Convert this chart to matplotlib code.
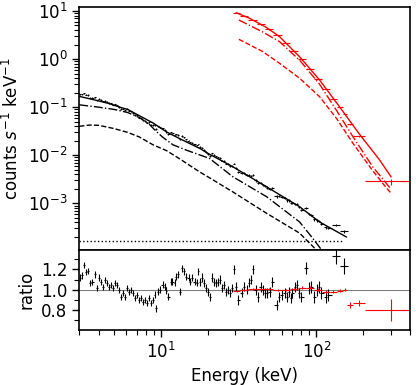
import numpy as np
import matplotlib
matplotlib.use("Agg")
import matplotlib.pyplot as plt
from matplotlib.ticker import MultipleLocator

# ---- model curves ----
# black spectrum: total, two components, constant background
blk_model_e = [3.0, 4.0, 4.7, 5.46, 6.13, 7.33, 8.93, 10.9, 13.2, 17.8, 20.6, 29.0, 48.0, 78.1, 105, 156]
blk_total = [0.168, 0.135, 0.118, 0.100, 0.090, 0.066, 0.047, 0.0306, 0.0223, 0.0139, 0.0105,
             0.0058, 0.0022, 8.5e-4, 4.1e-4, 2.0e-4]

blk_dd_e = [3.0, 4.0, 5.0, 6.1, 7.3, 8.4, 9.4, 10.35, 12.0, 14.6, 20.6, 29.0, 48.0, 78.1, 94.6, 110, 125]
blk_dashdot = [0.112, 0.100, 0.090, 0.078, 0.061, 0.045, 0.031, 0.0235, 0.0165, 0.0128, 0.0086,
               0.0036, 1.37e-3, 4.1e-4, 1.9e-4, 1.0e-4, 4e-5]

blk_da_e = [3.0, 3.5, 4.0, 5.0, 6.13, 7.3, 8.93, 10.9, 13.2, 17.8, 20.6, 29.0, 48.0, 78.1, 97.5, 110]
blk_dashed = [0.040, 0.0425, 0.042, 0.036, 0.030, 0.024, 0.0165, 0.0125, 0.0085, 0.0045, 0.0034,
              0.00174, 6.2e-4, 2.4e-4, 1.17e-4, 6e-5]

bkg_e = [3.0, 150]
bkg_level = [1.67e-4, 1.67e-4]

# red spectrum: total and two components
red_model_e = [30.6, 37.3, 47.7, 58.1, 78.1, 105, 141, 190, 255, 302]
red_total = [9.2, 7.05, 4.58, 2.92, 1.12, 0.367, 0.102, 0.027, 0.0080, 3.57e-3]

red_comp_e = [31.8, 45.0, 58.1, 78.1, 105, 135, 172, 230, 282, 302]
red_dashdot = [6.5, 3.7, 2.3, 0.95, 0.30, 0.085, 0.0243, 0.0058, 2.6e-3, 1.95e-3]
red_dashed = [2.58, 1.45, 0.816, 0.40, 0.165, 0.058, 0.0177, 0.0048, 2.1e-3, 1.62e-3]

# ---- black data: energy, data/model ratio, error ----
blk_e = [3.02, 3.10, 3.23, 3.33, 3.43, 3.53, 3.64, 3.80, 3.91, 4.03, 4.15, 4.27, 4.40, 4.53, 4.67,
         4.80, 4.95, 5.09, 5.25, 5.40, 5.56, 5.73, 5.90, 6.07, 6.25, 6.44, 6.63, 6.83, 7.03, 7.24,
         7.46, 7.68, 7.91, 8.14, 8.39, 8.64, 8.89, 9.16, 9.29, 9.57, 9.85, 10.3, 10.6, 10.9, 11.2,
         11.6, 11.9, 12.3, 12.6, 13.0, 13.4, 13.8, 14.2, 14.6, 15.1, 15.5, 16.0, 16.5, 17.0, 17.5,
         18.0, 18.5, 19.1, 19.6, 20.2, 20.8, 21.4, 22.1, 22.7, 23.4, 24.1, 24.8, 25.6, 26.3, 27.1,
         27.9, 28.7, 29.6, 30.5, 31.4, 33.3, 34.3, 35.8, 36.9, 38.0, 39.1, 40.9, 42.1, 44.0, 45.3,
         46.6, 48.0, 50.2, 51.7, 55.6, 57.3, 59.8, 62.6, 64.4, 66.3, 68.3, 70.3, 73.5, 75.7, 77.9,
         80.3, 86.4, 90.2, 92.9, 97.1, 101.5, 104.5, 107.6, 115.8, 119.2, 134.1, 150.8]
blk_ratio = [1.12, 1.14, 1.24, 1.17, 1.18, 1.07, 1.08, 1.15, 1.02, 1.12, 1.08, 1.03, 1.10, 1.07, 1.03,
             1.05, 1.02, 1.07, 1.05, 1.00, 0.93, 0.97, 0.93, 1.02, 0.98, 1.00, 0.97, 0.92, 0.95, 0.90,
             0.92, 0.88, 0.90, 0.87, 0.92, 0.87, 0.90, 0.95, 0.82, 0.98, 1.00, 1.05, 1.03, 0.99, 0.93,
             1.08, 1.08, 1.07, 1.13, 1.15, 0.98, 1.21, 1.18, 1.13, 1.12, 1.08, 1.12, 1.08, 1.07, 1.18,
             1.08, 1.12, 1.07, 1.02, 0.98, 0.93, 1.12, 1.08, 1.07, 1.08, 1.10, 1.02, 1.05, 0.98, 1.00,
             0.97, 1.02, 1.20, 1.03, 0.90, 0.97, 1.03, 1.00, 1.07, 1.10, 1.20, 1.00, 0.93, 1.03, 1.00,
             0.97, 0.97, 0.98, 1.08, 0.85, 0.93, 0.95, 0.97, 0.93, 0.98, 0.92, 0.97, 1.03, 1.05, 0.97,
             0.93, 1.21, 1.02, 1.03, 0.93, 1.00, 1.03, 0.97, 0.93, 0.95, 1.33, 1.23]
blk_err = [0.03] * 37 + [0.035] * 23 + [0.04] * 17 + [0.045] * 9 + [0.05] * 20 + [0.06] * 9 + [0.075, 0.08]

# ---- red data: bin edges, ratio, error ----
red_edges = [29, 32.5, 36.5, 41.5, 47, 53, 60, 67.5, 76, 86, 97, 109, 122, 135, 148, 157, 171, 205, 400]
red_ratio = [0.99, 1.00, 1.01, 1.01, 1.01, 1.00, 1.00, 1.01, 1.02, 1.02, 1.00, 0.98, 0.98, 0.99,
             1.00, 0.85, 0.87, 0.80]
red_err = [0.01, 0.01, 0.01, 0.01, 0.01, 0.012, 0.012, 0.012, 0.015, 0.015, 0.015, 0.015, 0.015,
           0.015, 0.015, 0.03, 0.03, 0.11]


def model_at(e, knots_e, knots_v):
    return 10 ** np.interp(np.log10(e), np.log10(knots_e), np.log10(knots_v))


plt.rcParams['font.size'] = 12
plt.rcParams['axes.linewidth'] = 1.2

fig = plt.figure(figsize=(4.16, 3.85), dpi=100)
ax1 = fig.add_axes([0.1906, 0.3506, 0.7950, 0.6320])
ax2 = fig.add_axes([0.1906, 0.1429, 0.7950, 0.2077], sharex=ax1)

# black data
be = np.array(blk_e)
mids = np.sqrt(be[1:] * be[:-1])
lo = np.concatenate([[be[0] ** 2 / mids[0]], mids])
hi = np.concatenate([mids, [be[-1] ** 2 / mids[-1]]])
bx_err = [be - lo, hi - be]
b_mod = model_at(be, blk_model_e, blk_total)
b_rat = np.array(blk_ratio)
b_err = np.array(blk_err)

# red data
redg = np.array(red_edges)
re = (redg[1:] + redg[:-1]) / 2
rx_err = [re - redg[:-1], redg[1:] - re]
r_mod = model_at(re, red_model_e, red_total)
r_rat = np.array(red_ratio)
r_err = np.array(red_err)

eb = dict(fmt='none', elinewidth=0.8, capsize=0)

# top panel
ax1.errorbar(be, b_mod * b_rat, xerr=bx_err, yerr=b_mod * b_err, ecolor='black', **eb)
ax1.plot(blk_model_e, blk_total, color='black', lw=1.0)
ax1.plot(blk_dd_e, blk_dashdot, color='black', lw=1.0, ls='-.')
ax1.plot(blk_da_e, blk_dashed, color='black', lw=1.0, ls='--')
ax1.plot(bkg_e, bkg_level, color='black', lw=1.0, ls=':')

ax1.errorbar(re, r_mod * r_rat, xerr=rx_err, yerr=r_mod * r_err, ecolor='red', **eb)
ax1.plot(red_model_e, red_total, color='red', lw=1.0)
ax1.plot(red_comp_e, red_dashdot, color='red', lw=1.0, ls='-.')
ax1.plot(red_comp_e, red_dashed, color='red', lw=1.0, ls='--')

ax1.set_xscale('log')
ax1.set_yscale('log')
ax1.set_xlim(3, 400)
ax1.set_ylim(1.07e-4, 12.3)
ax1.set_ylabel('counts $s^{-1}$ keV$^{-1}$')
ax1.tick_params(axis='x', which='both', bottom=False, labelbottom=False)

# ratio panel
ax2.axhline(1.0, color='gray', lw=0.8)
ax2.errorbar(be, b_rat, xerr=bx_err, yerr=b_err, ecolor='black', **eb)
ax2.errorbar(re, r_rat, xerr=rx_err, yerr=r_err, ecolor='red', **eb)
ax2.set_ylim(0.605, 1.39)
ax2.yaxis.set_major_locator(MultipleLocator(0.2))
ax2.yaxis.set_minor_locator(MultipleLocator(0.1))
ax2.set_ylabel('ratio')
ax2.set_xlabel('Energy (keV)')

for ax in (ax1, ax2):
    ax.tick_params(which='major', length=5, width=1)
    ax.tick_params(which='minor', length=3.5, width=0.8)

fig.savefig('out.png', dpi=100)
